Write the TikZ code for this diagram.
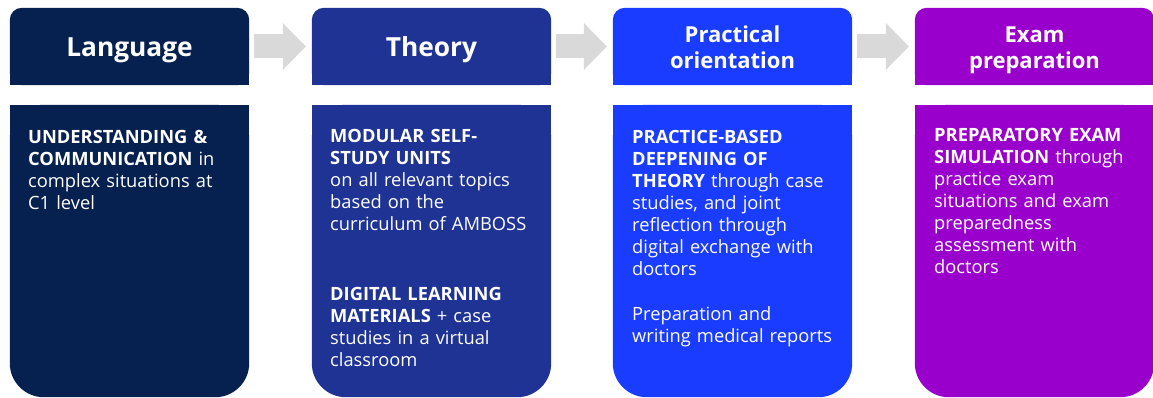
\documentclass[tikz,border=0pt]{standalone}
\usepackage{fontspec}
\setmainfont{Open Sans}
\usetikzlibrary{arrows.meta,backgrounds}

\definecolor{langblue}{RGB}{6,33,80}
\definecolor{theoryblue}{RGB}{30,51,148}
\definecolor{practiceblue}{RGB}{26,60,255}
\definecolor{exampurple}{RGB}{153,0,204}
\definecolor{arrowgray}{RGB}{217,217,217}

\begin{document}
\begin{tikzpicture}[x=1pt,y=1pt,
    every node/.style={inner sep=0pt, text=white},
    head/.style={minimum width=239pt, minimum height=77pt, align=center,
      text height=45pt, text depth=0pt, font=\bfseries\fontsize{22}{26}\selectfont},
    bigtitle/.style={text height=21pt, font=\bfseries\fontsize{26.3}{30}\selectfont},
    card/.style={minimum width=239pt, minimum height=292pt},
    bodytext/.style={anchor=base west, text width=215pt, align=left,
      font=\fontsize{18.3}{22}\selectfont},
    flow/.style={line width=24pt, draw=arrowgray, -{Triangle[width=47pt,length=23pt,line width=0pt]}}]
  \useasboundingbox (0,0) rectangle (1153,398);

  % headers
  \node[head, bigtitle] at (129.5, 351.5) (H1) {Language};
  \node[head, bigtitle] at (431.5, 351.5) (H2) {Theory};
  \node[head] at (732.5, 351.5) (H3) {Practical\\orientation};
  \node[head] at (1034.5, 351.5) (H4) {Exam\\preparation};

  % cards below the headers
  \node[card] at (129.5, 147) (B1) {};
  \node[card] at (431.5, 147) (B2) {};
  \node[card] at (732.5, 147) (B3) {};
  \node[card] at (1034.5, 147) (B4) {};

  \node[bodytext] at (28, 254) (T1) {\textbf{UNDERSTANDING \&}\\
    \textbf{COMMUNICATION} in\\ complex situations at\\ C1 level};
  \node[bodytext] at (330, 255) (T2) {\textbf{MODULAR SELF-}\\
    \textbf{STUDY UNITS}\\ on all relevant topics\\ based on the\\
    curriculum of AMBOSS\\[48pt]
    \textbf{DIGITAL LEARNING}\\ \textbf{MATERIALS} + case\\
    studies in a virtual\\ classroom};
  \node[bodytext] at (632, 254) (T3) {\textbf{PRACTICE-BASED}\\
    \textbf{DEEPENING OF}\\ \textbf{THEORY} through case\\
    studies, and joint\\ reflection through\\ digital exchange with\\
    doctors\\[23pt] Preparation and\\ writing medical reports};
  \node[bodytext] at (934, 256) (T4) {\textbf{PREPARATORY EXAM}\\
    \textbf{SIMULATION} through\\ practice exam\\ situations and exam\\
    preparedness\\ assessment with\\ doctors};

  % arrows between the headers
  \draw[flow] ([xshift=5pt]H1.east) -- ([xshift=-6pt]H2.west);
  \draw[flow] ([xshift=5pt]H2.east) -- ([xshift=-6pt]H3.west);
  \draw[flow] ([xshift=5pt]H3.east) -- ([xshift=-6pt]H4.west);

  \begin{scope}[on background layer]
    \fill[langblue, rounded corners=12pt] (H1.south west) rectangle (H1.north east);
    \fill[langblue] (H1.south west) rectangle (H1.east);
    \fill[langblue, rounded corners=34pt] (B1.south west) rectangle (B1.north east);
    \fill[langblue] (B1.west) rectangle (B1.north east);
    \fill[theoryblue, rounded corners=12pt] (H2.south west) rectangle (H2.north east);
    \fill[theoryblue] (H2.south west) rectangle (H2.east);
    \fill[theoryblue, rounded corners=34pt] (B2.south west) rectangle (B2.north east);
    \fill[theoryblue] (B2.west) rectangle (B2.north east);
    \fill[practiceblue, rounded corners=12pt] (H3.south west) rectangle (H3.north east);
    \fill[practiceblue] (H3.south west) rectangle (H3.east);
    \fill[practiceblue, rounded corners=34pt] (B3.south west) rectangle (B3.north east);
    \fill[practiceblue] (B3.west) rectangle (B3.north east);
    \fill[exampurple, rounded corners=12pt] (H4.south west) rectangle (H4.north east);
    \fill[exampurple] (H4.south west) rectangle (H4.east);
    \fill[exampurple, rounded corners=34pt] (B4.south west) rectangle (B4.north east);
    \fill[exampurple] (B4.west) rectangle (B4.north east);
  \end{scope}
\end{tikzpicture}
\end{document}
